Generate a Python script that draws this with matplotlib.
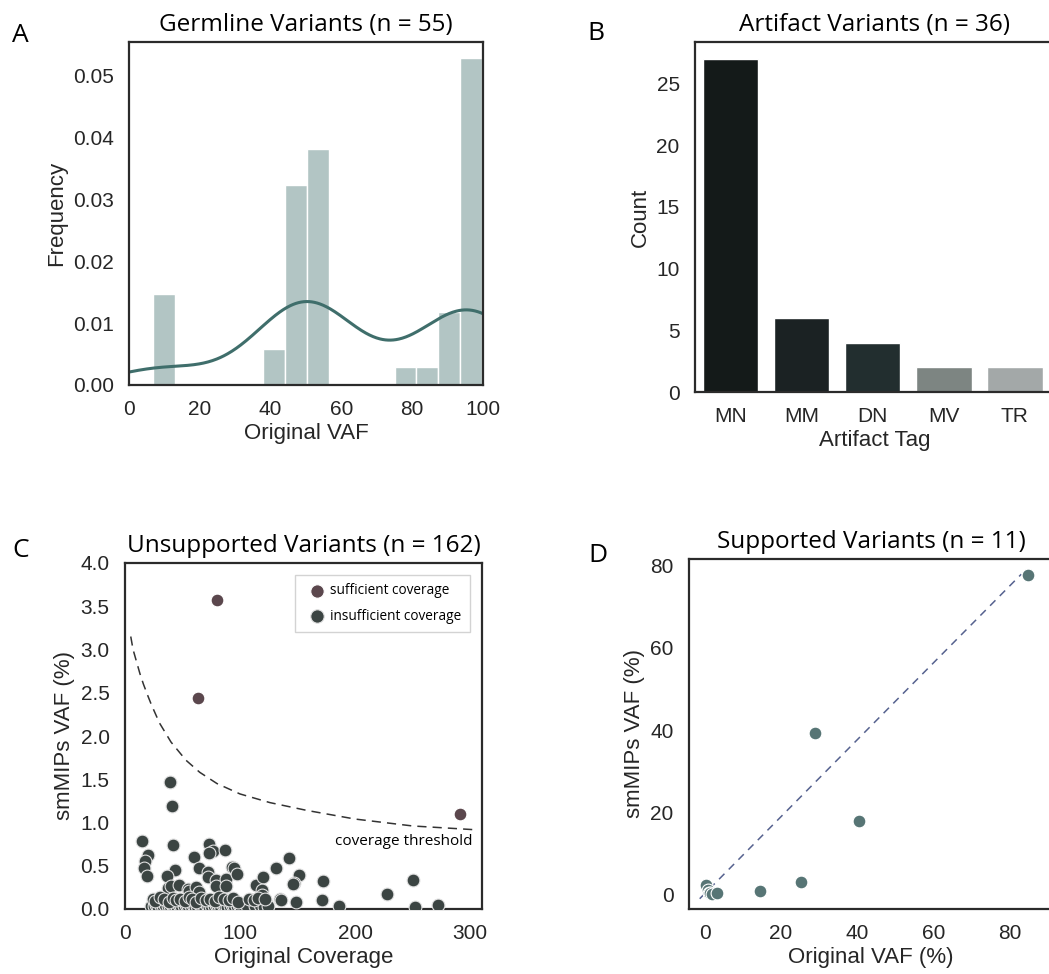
import numpy as np
import matplotlib.pyplot as plt

germline_vaf = [6.8, 8.5, 9.8, 11.0, 12.3,
                40.5, 42.6,
                44.6, 45.1, 45.7, 46.3, 46.9, 47.4, 48.0, 48.5, 49.0, 49.5, 50.0,
                50.5, 51.0, 51.5, 52.0, 52.5, 53.0, 53.4, 53.9, 54.3, 54.8, 55.3, 55.8, 56.2,
                78.0, 84.0,
                88.5, 90.0, 91.5, 93.0,
                94.0, 94.5, 95.0, 95.5, 96.0, 96.4, 96.8, 97.2, 97.6, 98.0, 98.3, 98.6,
                98.9, 99.1, 99.3, 99.5, 99.7, 99.8]

# ---- panel B: artifact tags
artifact_tags = ['MN', 'MM', 'DN', 'MV', 'TR']
artifact_counts = [27, 6, 4, 2, 2]
artifact_colors = ['#141a19', '#1b2223', '#222e2f', '#7d8582', '#a3a8a8']

# ---- panel C: unsupported variants
suff_cov = [80, 63.5, 291]
suff_vaf = [3.57, 2.44, 1.10]

insuff_cov = [39.5, 40.9, 15.1, 41.8, 20, 17.7, 16.2, 19.4, 43.2, 36.6, 37.4, 40.4, 47.2,
              60.3, 64.1, 73.1, 76.6, 73.1, 86.8, 71.8, 72.5, 79.2, 79.5, 87.9, 87.6, 92.6,
              94.5, 97.5, 54.8, 55.5, 62.1, 64, 114, 120, 119, 119.5, 131, 143, 151, 147,
              146.5, 172, 171, 149, 135, 136, 228, 250, 252, 272, 186, 110, 103, 120, 123]
insuff_vaf = [1.465, 1.19, 0.787, 0.735, 0.625, 0.55, 0.47, 0.38, 0.45, 0.38, 0.24, 0.27, 0.28,
              0.605, 0.47, 0.75, 0.665, 0.645, 0.685, 0.43, 0.37, 0.34, 0.27, 0.345, 0.27, 0.49,
              0.47, 0.405, 0.23, 0.21, 0.26, 0.2, 0.28, 0.37, 0.22, 0.16, 0.47, 0.59, 0.39, 0.30,
              0.29, 0.32, 0.10, 0.085, 0.12, 0.10, 0.17, 0.335, 0.027, 0.046, 0.04, 0.10, 0.027, 0.046, 0.066]
# crowd of low-VAF calls near the x axis
low_cov = [23, 25, 27, 29, 31, 33, 35, 37, 39, 41, 43, 45, 47, 49, 51, 53, 55, 57, 59, 61, 63, 65,
           67, 69, 71, 73, 75, 77, 79, 81, 83, 85, 87, 89, 91, 93, 95, 97, 99, 101, 106, 113, 117, 121, 124]
low_vaf = [0.04, 0.03, 0.05, 0.02, 0.04, 0.03, 0.05, 0.04, 0.03, 0.05, 0.04, 0.02, 0.05, 0.04, 0.03,
           0.05, 0.04, 0.03, 0.05, 0.02, 0.04, 0.05, 0.03, 0.04, 0.05, 0.02, 0.04, 0.03, 0.05, 0.04,
           0.03, 0.05, 0.04, 0.02, 0.03, 0.05, 0.04, 0.03, 0.05, 0.02, 0.04, 0.03, 0.05, 0.02, 0.04]
mid_cov = [24, 26, 30, 34, 38, 42, 44, 48, 52, 56, 58, 62, 66, 70, 74, 78, 82, 86, 90, 94, 98,
           108, 112, 116, 122]
mid_vaf = [0.12, 0.09, 0.14, 0.11, 0.08, 0.13, 0.10, 0.12, 0.09, 0.14, 0.11, 0.08, 0.13, 0.10,
           0.12, 0.09, 0.14, 0.11, 0.10, 0.13, 0.08, 0.12, 0.10, 0.13, 0.11]

# coverage threshold curve
thr_cov = [5, 7, 10, 13, 16, 20, 23, 30, 40, 53, 65, 80, 100, 126, 158, 200, 250, 306]
thr_vaf = [3.15, 3.0, 2.86, 2.72, 2.60, 2.46, 2.36, 2.15, 1.93, 1.72, 1.58, 1.45, 1.33,
           1.23, 1.14, 1.04, 0.96, 0.915]

# ---- panel D: supported variants
supp_orig = [84.6, 28.8, 40.4, 25.1, 14.4, 0.4, 0.8, 1.2, 1.5, 2.0, 3.2]
supp_smmips = [77.8, 39.4, 18.0, 3.0, 0.8, 2.3, 1.0, 0.5, 0.3, 0.2, 0.3]
diag_x = [-1.3, 82.9]
diag_y = [-1.0, 77.9]

plt.rcParams['font.family'] = ['Liberation Sans', 'DejaVu Sans']
TXT = '#262626'
title_font = dict(family='Open Sans', size=17.5, color='black', weight='medium')


def style_axes(ax):
    for s in ax.spines.values():
        s.set_linewidth(1.6)
        s.set_color('#2b2b2b')
    ax.tick_params(length=0, pad=11, labelsize=15, colors=TXT)
    ax.xaxis.label.set_color(TXT)
    ax.yaxis.label.set_color(TXT)


fig = plt.figure(figsize=(10.49, 9.74), dpi=100)
W, H = 1049., 974.


def add_ax(l, t, r, b):
    return fig.add_axes([l / W, 1 - b / H, (r - l) / W, (b - t) / H])


# A
axA = add_ax(129, 42, 483, 385)
vaf = np.array(germline_vaf)
axA.hist(vaf, bins=15, density=True, color='#b2c5c4', edgecolor='white', linewidth=1)
grid = np.linspace(0, 100, 400)
# scott bandwidth as in statsmodels (distplot)
iqr = np.subtract(*np.percentile(vaf, [75, 25]))
bw = 1.059 * min(vaf.std(ddof=1), iqr / 1.349) * len(vaf) ** (-1 / 5)
kde = np.exp(-0.5 * ((grid[:, None] - vaf[None, :]) / bw) ** 2).sum(1) / (len(vaf) * bw * np.sqrt(2 * np.pi))
axA.plot(grid, kde, color='#3f6e6b', lw=2.2)
axA.set_xlim(0, 100)
axA.set_yticks([0, 0.01, 0.02, 0.03, 0.04, 0.05])
axA.set_yticklabels(['0.00', '0.01', '0.02', '0.03', '0.04', '0.05'])
axA.set_xlabel('Original VAF', fontsize=16, labelpad=3)
axA.set_ylabel('Frequency', fontsize=16, labelpad=4)
axA.set_title('Germline Variants (n = 55)', pad=8, fontdict=title_font)
style_axes(axA)

# B
axB = add_ax(695, 42, 1054, 392)
axB.bar(range(len(artifact_tags)), artifact_counts, width=0.78, color=artifact_colors,
        edgecolor='white', linewidth=1)
axB.set_xticks(range(len(artifact_tags)))
axB.set_xticklabels(artifact_tags)
axB.set_xlim(-0.5, 4.55)
axB.set_ylim(0, 28.35)
axB.set_xlabel('Artifact Tag', fontsize=16, labelpad=3)
axB.set_ylabel('Count', fontsize=16, labelpad=4)
axB.set_title('Artifact Variants (n = 36)', pad=8, fontdict=title_font)
style_axes(axB)

# C
axC = add_ax(125, 563, 482, 909)
all_cov = insuff_cov + low_cov + mid_cov
all_vaf = insuff_vaf + low_vaf + mid_vaf
axC.scatter(suff_cov, suff_vaf, s=85, color='#5b474d', edgecolor='white', linewidth=0.8,
            label='sufficient coverage', zorder=3)
axC.scatter(all_cov, all_vaf, s=85, color='#3b4442', edgecolor='#e0e0e0', linewidth=0.8,
            label='insufficient coverage', zorder=3)
axC.plot(thr_cov, thr_vaf, ls=(0, (6, 4)), color='#333333', lw=1.1)
axC.text(302, 0.78, 'coverage threshold', ha='right', va='center', family='Open Sans', fontsize=11)
axC.set_xlim(0, 310.4)
axC.set_ylim(0, 4)
axC.set_xticks([0, 100, 200, 300])
axC.set_yticks(np.arange(0, 4.01, 0.5))
axC.set_xlabel('Original Coverage', fontsize=16, labelpad=3)
axC.set_ylabel('smMIPs VAF (%)', fontsize=16, labelpad=4)
axC.set_title('Unsupported Variants (n = 162)', pad=8, fontdict=title_font)
leg = axC.legend(loc='upper right', prop=dict(family='Open Sans', size=9.8), handletextpad=0.0,
                 borderaxespad=0.9, frameon=True, fancybox=False, markerscale=1.05,
                 labelspacing=0.75, borderpad=0.6)
leg.get_frame().set_edgecolor('#c8c8c8')
style_axes(axC)

# D
axD = add_ax(689, 559, 1053, 909)
axD.scatter(supp_orig, supp_smmips, s=85, color='#577575', edgecolor='white', linewidth=0.8, zorder=3)
axD.plot(diag_x, diag_y, ls=(0, (5, 4)), color='#56628f', lw=1.1)
axD.set_xlim(-4.1, 91.2)
axD.set_ylim(-3.5, 81.6)
axD.set_xticks([0, 20, 40, 60, 80])
axD.set_yticks([0, 20, 40, 60, 80])
axD.set_xlabel('Original VAF (%)', fontsize=16, labelpad=3)
axD.set_ylabel('smMIPs VAF (%)', fontsize=16, labelpad=4)
axD.set_title('Supported Variants (n = 11)', pad=8, fontdict=title_font)
style_axes(axD)

# panel letters
for letter, x, y in [('A', 12, 42), ('B', 587, 40), ('C', 12, 557), ('D', 588, 562)]:
    fig.text(x / W, 1 - y / H, letter, family='Open Sans', fontsize=19, ha='left', va='baseline')

fig.savefig('out.png', dpi=100)
